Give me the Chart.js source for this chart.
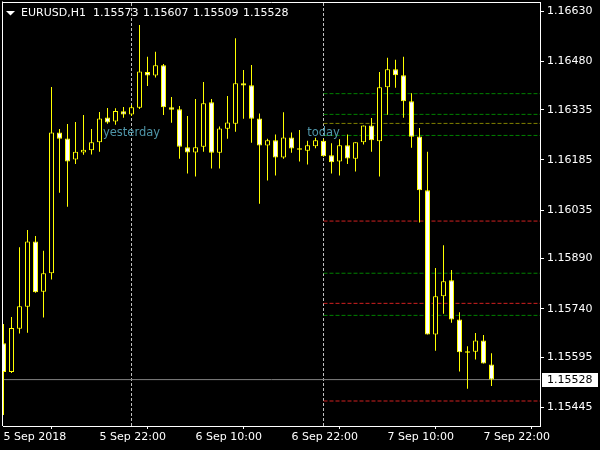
<!DOCTYPE html>
<html><head><meta charset="utf-8">
<script src="https://cdn.jsdelivr.net/npm/chart.js@4.4.0/dist/chart.umd.min.js"></script>
<style>html,body{margin:0;padding:0;background:#000;}canvas{display:block;}</style>
</head><body>
<canvas id="c" width="600" height="450"></canvas>
<script>
const symbol = 'EURUSD,H1';
const opens = [1.15637,1.15551,1.15680,1.15746,1.15941,1.15791,1.15846,1.16267,1.16249,1.16186,
1.16207,1.16214,1.16238,1.16312,1.16300,1.16330,1.16321,1.16341,1.16448,1.16437,
1.16468,1.16342,1.16336,1.16223,1.16207,1.16224,1.16357,1.16206,1.16278,1.16293,
1.16414,1.16408,1.16309,1.16228,1.16244,1.16192,1.16252,1.16220,1.16212,1.16226,
1.16242,1.16199,1.16180,1.16229,1.16188,1.16238,1.16288,1.16241,1.16402,1.16456,
1.16438,1.16360,1.16255,1.16094,1.15663,1.15777,1.15825,1.15708,1.15613,1.15611,
1.15645,1.15573];
const highs = [1.15694,1.15715,1.15924,1.15975,1.15957,1.15913,1.16403,1.16277,1.16292,1.16298,
1.16319,1.16277,1.16328,1.16340,1.16339,1.16343,1.16349,1.16588,1.16493,1.16508,
1.16472,1.16373,1.16346,1.16316,1.16367,1.16418,1.16367,1.16285,1.16376,1.16549,
1.16454,1.16469,1.16324,1.16248,1.16261,1.16327,1.16267,1.16274,1.16242,1.16251,
1.16248,1.16235,1.16247,1.16261,1.16238,1.16288,1.16310,1.16448,1.16490,1.16484,
1.16493,1.16384,1.16280,1.16209,1.15862,1.15930,1.15856,1.15729,1.15628,1.15667,
1.15661,1.15607];
const lows = [1.15422,1.15548,1.15666,1.15668,1.15788,1.15714,1.15827,1.16087,1.16045,1.16173,
1.16200,1.16201,1.16209,1.16293,1.16290,1.16311,1.16316,1.16337,1.16406,1.16431,
1.16319,1.16296,1.16188,1.16144,1.16135,1.16209,1.16159,1.16159,1.16248,1.16269,
1.16308,1.16236,1.16054,1.16123,1.16138,1.16188,1.16206,1.16180,1.16171,1.16220,
1.16194,1.16144,1.16138,1.16173,1.16150,1.16231,1.16209,1.16135,1.16320,1.16401,
1.16311,1.16221,1.15998,1.15663,1.15614,1.15725,1.15698,1.15552,1.15501,1.15588,
1.15576,1.15509];
const closes = [1.15551,1.15682,1.15747,1.15941,1.15789,1.15846,1.16267,1.16248,1.16180,1.16209,
1.16215,1.16238,1.16309,1.16297,1.16331,1.16321,1.16342,1.16449,1.16437,1.16468,
1.16342,1.16335,1.16224,1.16207,1.16223,1.16354,1.16206,1.16279,1.16297,1.16414,
1.16407,1.16308,1.16228,1.16244,1.16192,1.16252,1.16219,1.16215,1.16229,1.16244,
1.16196,1.16178,1.16229,1.16189,1.16238,1.16288,1.16244,1.16402,1.16456,1.16438,
1.16360,1.16254,1.16094,1.15663,1.15777,1.15822,1.15708,1.15610,1.15608,1.15645,
1.15576,1.15528];
const xTickIndex = [0, 12, 24, 36, 48, 60];
const xTickLabels = ['5 Sep 2018', '5 Sep 22:00', '6 Sep 10:00', '6 Sep 22:00', '7 Sep 10:00', '7 Sep 22:00'];
const yTickValues = [1.16630, 1.16480, 1.16335, 1.16185, 1.16035, 1.15890, 1.15740, 1.15595, 1.15445];
const pivotLevels = [1.16383, 1.16321, 1.16294, 1.16258, 1.16002, 1.15846, 1.15756, 1.15720, 1.15464];
const yesterdayIndex = 16;
const todayIndex = 40;

// ---- layout / style ----
const Y_MIN = 1.1538926, Y_MAX = 1.1665403;
const X_MIN = -0.0625, X_MAX = 67.0625;
const FONT = "'DejaVu Sans', sans-serif";
const YELLOW = '#ffff00';
const pivotColors = ['#008000', '#008000', '#808000', '#008000', '#d02020', '#008000', '#d02020', '#008000', '#d02020'];
const SEP_COLOR = '#c0c0c0';
const LABEL_COLOR = '#4f95a8';

const n = opens.length;
const lastClose = closes[n - 1];
const idx = opens.map((_, i) => i);
const bodies = idx.map(i => ({x: i, y: [opens[i], closes[i]]}));
const wicks = idx.map(i => ({x: i, y: [lows[i], highs[i]]}));
const bodyFill = idx.map(i => closes[i] >= opens[i] ? '#000000' : '#ffffff');

const datasets = [
  {type: 'bar', data: bodies, maxBarThickness: 5, backgroundColor: bodyFill, borderColor: YELLOW,
   borderWidth: 1, borderSkipped: false, inflateAmount: 0, grouped: false, order: 0},
  {type: 'bar', data: wicks, maxBarThickness: 1, backgroundColor: YELLOW, borderWidth: 0,
   inflateAmount: 0, grouped: false, order: 1},
  {type: 'line', data: [{x: X_MIN, y: lastClose}, {x: X_MAX, y: lastClose}], borderColor: '#808080',
   borderWidth: 1, pointRadius: 0, order: 2}
];
pivotLevels.forEach((lvl, i) => datasets.push({
  type: 'line', data: [{x: todayIndex, y: lvl}, {x: X_MAX, y: lvl}], borderColor: pivotColors[i],
  borderWidth: 1, borderDash: [4, 2], pointRadius: 0, order: 3
}));
[yesterdayIndex, todayIndex].forEach(k => datasets.push({
  type: 'line', data: [{x: k, y: Y_MIN}, {x: k, y: Y_MAX}], borderColor: SEP_COLOR,
  borderWidth: 1, borderDash: [3, 2], pointRadius: 0, order: 4
}));

const overlay = {
  id: 'overlay',
  beforeDraw(chart) {
    const ctx = chart.ctx;
    ctx.save(); ctx.fillStyle = '#000'; ctx.fillRect(0, 0, chart.width, chart.height); ctx.restore();
  },
  afterDatasetsDraw(chart) {
    const ctx = chart.ctx, xs = chart.scales.x;
    ctx.save();
    ctx.font = "11.5px " + FONT;
    ctx.fillStyle = LABEL_COLOR;
    ctx.textAlign = 'center';
    ctx.textBaseline = 'alphabetic';
    ctx.fillText('yesterday', xs.getPixelForValue(yesterdayIndex), 136);
    ctx.fillText('today', xs.getPixelForValue(todayIndex), 136);
    ctx.restore();
  },
  afterDraw(chart) {
    const ctx = chart.ctx, a = chart.chartArea, ys = chart.scales.y;
    ctx.save();
    ctx.strokeStyle = '#ffffff'; ctx.lineWidth = 1;
    ctx.beginPath();
    ctx.moveTo(a.left - 0.5, a.bottom); ctx.lineTo(a.left - 0.5, a.top - 1.5);
    ctx.moveTo(a.left - 1, a.top - 0.5); ctx.lineTo(a.right + 1, a.top - 0.5);
    ctx.stroke();
    // header
    ctx.fillStyle = '#ffffff';
    ctx.beginPath(); ctx.moveTo(6, 11); ctx.lineTo(15, 11); ctx.lineTo(10.5, 15.5); ctx.closePath(); ctx.fill();
    ctx.font = "11px " + FONT; ctx.textBaseline = 'alphabetic'; ctx.textAlign = 'left';
    ctx.fillText(symbol, 21, 16);
    [opens[n-1], highs[n-1], lows[n-1], closes[n-1]].forEach((v, i) => ctx.fillText(v.toFixed(5), 93 + i * 50, 16));
    // current price label
    const py = ys.getPixelForValue(lastClose);
    ctx.fillStyle = '#ffffff'; ctx.fillRect(a.right + 2, Math.round(py) - 7, 56, 14);
    ctx.fillStyle = '#000000'; ctx.textBaseline = 'middle';
    ctx.fillText(lastClose.toFixed(5), a.right + 7, Math.round(py) + 0.5);
    ctx.restore();
  }
};

new Chart(document.getElementById('c'), {
  type: 'bar',
  data: {datasets},
  options: {
    responsive: false, animation: false, devicePixelRatio: 1,
    layout: {padding: {left: 3, top: 3, right: 0, bottom: 0}, autoPadding: false},
    plugins: {legend: {display: false}, tooltip: {enabled: false}},
    events: [],
    scales: {
      x: {
        type: 'linear', min: X_MIN, max: X_MAX, offset: false,
        afterBuildTicks: s => { s.ticks = xTickIndex.map(v => ({value: v})); },
        afterFit: s => { s.height = 24; s.paddingLeft = 0; s.paddingRight = 0; },
        grid: {display: true, drawOnChartArea: false, drawTicks: true, tickLength: 3, color: '#ffffff', lineWidth: 1},
        border: {display: true, color: '#ffffff', width: 1},
        ticks: {color: '#ffffff', font: {family: FONT, size: 11}, align: 'start', maxRotation: 0, minRotation: 0,
                autoSkip: false, padding: 2, callback: (v, i) => xTickLabels[i]}
      },
      y: {
        type: 'linear', position: 'right', min: Y_MIN, max: Y_MAX,
        afterBuildTicks: s => { s.ticks = yTickValues.map(v => ({value: v})); },
        afterFit: s => { s.width = 60; s.paddingTop = 0; s.paddingBottom = 0; },
        grid: {display: true, drawOnChartArea: false, drawTicks: true, tickLength: 4, color: '#ffffff', lineWidth: 1},
        border: {display: true, color: '#ffffff', width: 1},
        ticks: {color: '#ffffff', font: {family: FONT, size: 11}, padding: 3, autoSkip: false,
                callback: v => Number(v).toFixed(5)}
      }
    }
  },
  plugins: [overlay]
});
</script>
</body></html>
